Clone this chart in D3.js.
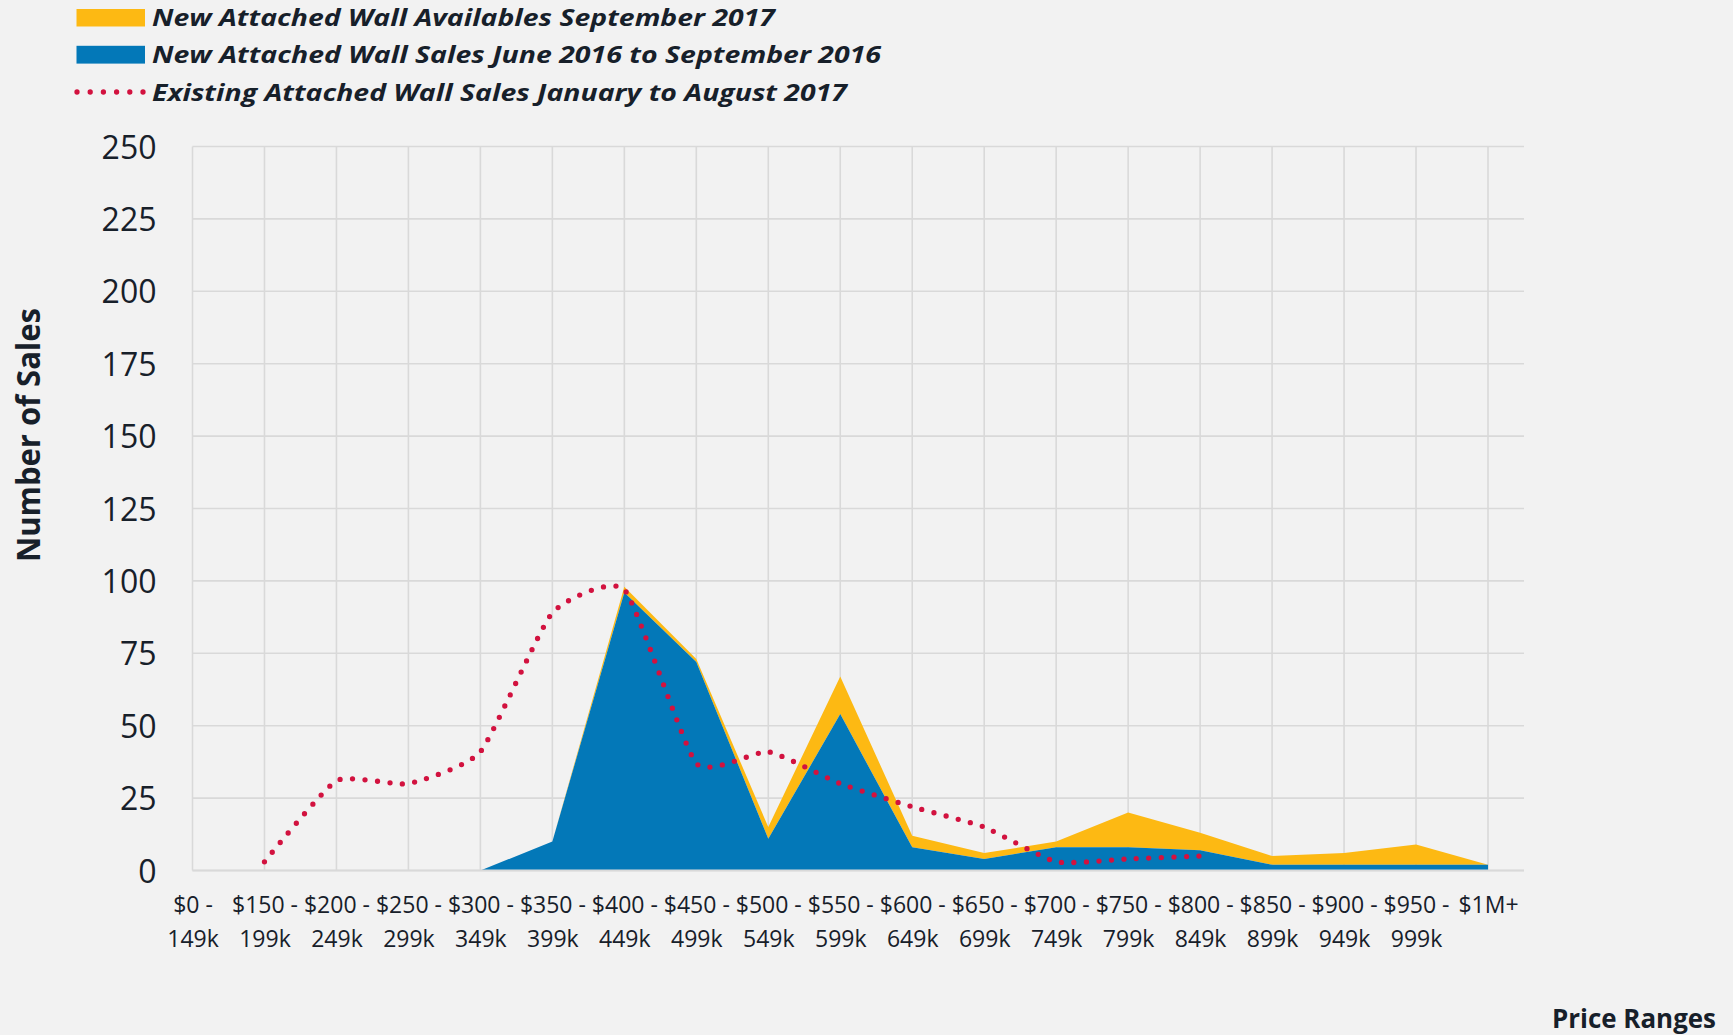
<!DOCTYPE html>
<html>
<head>
<meta charset="utf-8">
<script src="https://cdn.jsdelivr.net/npm/d3@7"></script>
<style>
  html, body { margin: 0; background: #f2f2f2; }
  svg { display: block; font-family: "Open Sans", sans-serif; }
</style>
</head>
<body>
<svg id="chart" width="1733" height="1035"></svg>
<script>
// price range categories (x axis)
const priceRanges = ['$0 - 149k', '$150 - 199k', '$200 - 249k', '$250 - 299k', '$300 - 349k',
  '$350 - 399k', '$400 - 449k', '$450 - 499k', '$500 - 549k', '$550 - 599k', '$600 - 649k',
  '$650 - 699k', '$700 - 749k', '$750 - 799k', '$800 - 849k', '$850 - 899k', '$900 - 949k',
  '$950 - 999k', '$1M+']

// New attached wall sales June 2016 to September 2016
const newSales = [0, 0, 0, 0, 0, 10, 96, 72, 11, 54, 8, 4, 8, 8, 7, 2, 2, 2, 2]
// New attached wall availables September 2017 (stacked on top of sales)
const newAvailables = [0, 0, 0, 0, 0, 0, 2, 1, 4, 13, 4, 2, 2, 12, 6, 3, 4, 7, 0]
// Existing attached wall sales January to August 2017
const existingSales = [null, 3, 31, 30, 41, 89, 97, 37, 41, 30, 22, 15, 3, 4, 5, null, null, null, null]

const yTicks = [0, 25, 50, 75, 100, 125, 150, 175, 200, 225, 250]

const legendLabels = [
  'New Attached Wall Availables September 2017',
  'New Attached Wall Sales June 2016 to September 2016',
  'Existing Attached Wall Sales January to August 2017'
]

const colors = {avail: '#fdb913', sales: '#0378b8', existing: '#d2123f'}
const textColor = '#17202a'
const gridColor = '#d9d9d9'

const plot = {left: 192.5, right: 1524, top: 146.5, bottom: 870.5, lastX: 1488}

const svg = d3.select('#chart')

const x = d3.scalePoint()
  .domain(priceRanges)
  .range([plot.left, plot.lastX])

const y = d3.scaleLinear()
  .domain([0, 250])
  .range([plot.bottom, plot.top])

// grid
const grid = svg.append('g').attr('class', 'grid')
grid.selectAll('.hgrid')
  .data(yTicks)
  .enter()
  .append('line')
  .attr('x1', plot.left)
  .attr('x2', plot.right)
  .attr('y1', d => y(d))
  .attr('y2', d => y(d))
  .attr('stroke', gridColor)
  .attr('stroke-width', 1.6)
grid.selectAll('.vgrid')
  .data(priceRanges)
  .enter()
  .append('line')
  .attr('x1', d => x(d))
  .attr('x2', d => x(d))
  .attr('y1', plot.top)
  .attr('y2', plot.bottom)
  .attr('stroke', gridColor)
  .attr('stroke-width', 1.6)

// stacked areas
const rows = priceRanges.map((p, i) => ({range: p, sales: newSales[i], avail: newAvailables[i]}))
const stacked = d3.stack().keys(['sales', 'avail'])(rows)

const area = d3.area()
  .x(d => x(d.data.range))
  .y0(d => y(d[0]))
  .y1(d => y(d[1]))

svg.append('path')
  .datum(stacked[1])
  .attr('d', area)
  .attr('fill', colors.avail)
svg.append('path')
  .datum(stacked[0])
  .attr('d', area)
  .attr('fill', colors.sales)

// existing sales dotted line (smoothed)
const existingPoints = priceRanges
  .map((p, i) => ({range: p, value: existingSales[i]}))
  .filter(d => d.value !== null)

const line = d3.line()
  .x(d => x(d.range))
  .y(d => y(d.value))
  .curve(d3.curveCardinal.tension(0.5))

svg.append('path')
  .datum(existingPoints)
  .attr('d', line)
  .attr('fill', 'none')
  .attr('stroke', colors.existing)
  .attr('stroke-width', 5.3)
  .attr('stroke-linecap', 'round')
  .attr('stroke-dasharray', '0 12.5')

// y axis
const yAxis = svg.append('g')
  .attr('transform', `translate(${plot.left},0)`)
  .call(d3.axisLeft(y).tickValues(yTicks).tickSize(0).tickPadding(36))
yAxis.select('.domain').remove()
yAxis.selectAll('text')
  .attr('font-family', '"Open Sans", sans-serif')
  .attr('font-size', 32)
  .attr('fill', textColor)
  .attr('dy', '0.36em')

// x axis, two-line labels
const xAxis = svg.append('g')
  .attr('transform', `translate(0,${plot.bottom})`)
  .call(d3.axisBottom(x).tickSize(0).tickFormat(''))
xAxis.select('.domain')
  .attr('stroke', gridColor)
  .attr('stroke-width', 2)
  .attr('d', `M${plot.left},0H${plot.right}`)
xAxis.selectAll('.tick text').each(function(d) {
  const parts = d.split(' - ')
  const t = d3.select(this)
    .attr('y', 0)
    .attr('dy', null)
    .attr('font-family', '"Open Sans", sans-serif')
    .attr('font-size', 23)
    .attr('fill', textColor)
    .attr('text-anchor', 'middle')
  t.append('tspan').attr('x', 0).attr('y', 42.5).text(parts.length > 1 ? parts[0] + ' -' : parts[0])
  if (parts.length > 1) {
    t.append('tspan').attr('x', 0).attr('y', 76.5).text(parts[1])
  }
})

// axis titles
svg.append('text')
  .attr('transform', 'translate(40,435) rotate(-90)')
  .attr('text-anchor', 'middle')
  .attr('font-size', 33)
  .attr('font-weight', 'bold')
  .attr('fill', textColor)
  .attr('textLength', 254)
  .attr('lengthAdjust', 'spacingAndGlyphs')
  .text('Number of Sales')

svg.append('text')
  .attr('x', 1716)
  .attr('y', 1028)
  .attr('text-anchor', 'end')
  .attr('font-size', 27)
  .attr('font-weight', 'bold')
  .attr('fill', textColor)
  .attr('textLength', 164)
  .attr('lengthAdjust', 'spacingAndGlyphs')
  .text('Price Ranges')

// legend
const legendY = [17.8, 54.7, 92]
const legendWidths = [623, 729, 695]
const legend = svg.append('g')
legend.append('rect')
  .attr('x', 76.5).attr('y', 9).attr('width', 68.5).attr('height', 17.5)
  .attr('fill', colors.avail)
legend.append('rect')
  .attr('x', 76.5).attr('y', 45.8).attr('width', 68.5).attr('height', 17.8)
  .attr('fill', colors.sales)
legend.append('line')
  .attr('x1', 77).attr('x2', 143)
  .attr('y1', legendY[2]).attr('y2', legendY[2])
  .attr('stroke', colors.existing)
  .attr('stroke-width', 5.3)
  .attr('stroke-linecap', 'round')
  .attr('stroke-dasharray', '0 13.2')
legend.selectAll('.legend-text')
  .data(legendLabels)
  .enter()
  .append('text')
  .attr('x', 152)
  .attr('y', (d, i) => legendY[i] + 8.6)
  .attr('font-size', 23.5)
  .attr('font-weight', 'bold')
  .attr('font-style', 'italic')
  .attr('fill', textColor)
  .attr('textLength', (d, i) => legendWidths[i])
  .attr('lengthAdjust', 'spacingAndGlyphs')
  .text(d => d)
</script>
</body>
</html>
